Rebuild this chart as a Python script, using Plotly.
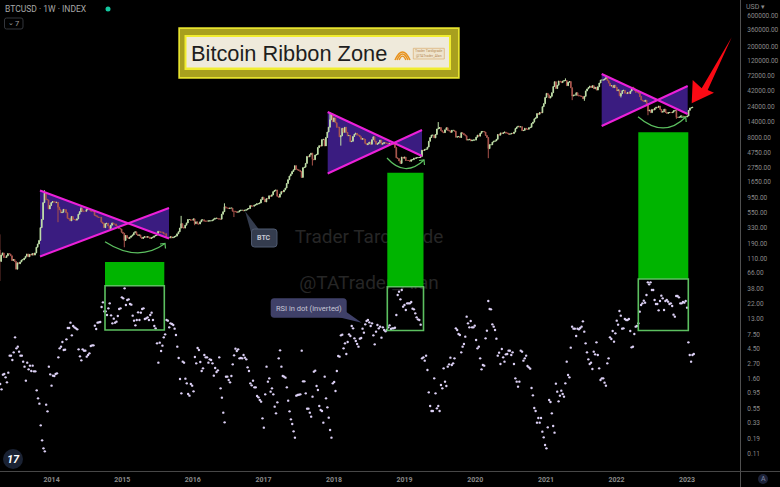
import pandas as pd
import plotly.graph_objects as go

# weekly BTCUSD closes, one row per calendar year, read against the price scale
closes = [
    150,100,125,135,115, 115,122,132,130, 122,103,107,100, 76,95,92,98,105, 106,112,120,130,
    118,128,125,132,125, 135,165,185,210, 330,440,800,1120, 900,880,640,720,800,
    830,820,800,810, 680,620,560,570, 630,620,560,460,450, 420,490,440,440, 430,450,530,580,
    650,590,590,590,625, 625,620,595,590, 590,510,500,480, 475,475,400,385,330, 380,385,350,320,
    360,390,375,375, 350,345,320,315,280,
    270,210,250,230, 225,235,245,255, 275,285,260,250,255, 235,225,235,240, 235,240,235,225,
    230,235,245,250,270, 290,285,280,280, 265,265,232,230,230, 240,230,235,240, 245,265,285,325,
    380,330,325,360,390, 440,440,430,430,
    450,380,405,375, 375,405,435,435,415, 415,415,420,420, 420,430,445,460, 460,455,445,445,530,
    580,690,660,660, 650,660,660,590, 590,580,570,575,600, 610,610,600,610, 620,640,650,720,705,
    705,730,740,770, 770,790,890,970,
    900,820,920,915,1020, 1000,1050,1180,1230, 1250,1000,970,1080, 1180,1170,1250,1340,
    1570,1800,2050,2200,2400, 2550,2950,2600,2550, 2500,2400,1950,2750,2800, 3200,4100,4050,4350,
    4600,3700,3650,4300, 4400,5600,6000,5900,7400, 7500,5950,8000,9700, 11500,15000,18500,14000,
    16000,13500,11500,11500,8200, 8500,11100,9600,11500, 9600,8500,8600,6900, 7000,8300,9000,9300,8700,
    8700,8200,7500,7700, 7500,6500,6200,6400, 6800,6300,7400,8200,7000, 6300,6400,6700,7300,
    6300,6500,6700,6600, 6550,6300,6500,6400,6350, 6350,5600,3900,3800, 3500,3200,4000,3850,4000,
    3550,3550,3550,3450, 3650,3650,3850,3850, 3900,3950,3950,4100, 5100,5050,5250,5300,5700,
    7000,8000,8700,8700, 7900,8900,10800,11000, 11400,10200,9700,9500,10500, 11300,10300,10100,9600,
    10300,10300,10000,8100,8200, 8300,8000,9500,9200, 8800,8500,7300,7400, 7500,7100,7300,7300,7300,
    8100,8700,8400,9300, 9900,9900,9700,8600, 8000,5400,6200,6200,6800, 7000,7100,7500,8900,
    8700,9400,9200,9450, 9700,9350,9300,9000,9050, 9250,9200,9700,11000, 11600,11900,11650,11700,10200,
    10300,11100,10750,10700, 11300,11500,13100,13800, 15500,16000,18700,18200,19400, 19200,23800,26500,33000,
    38100,36000,32300,34300, 39000,48600,57500,45200, 50900,59000,57500,55800,58800, 60000,60000,50000,56600,
    58000,46400,34700,35700,35800, 39000,35500,34700,34700, 34200,31500,34300,41500, 44600,47000,49300,47000,50000,
    45000,47200,42800,48200, 55000,60900,61300,61300, 63300,65500,59700,54800,49400, 50000,46700,50800,47300,
    41800,43100,35000,37900,42000, 42500,38400,37800,39400, 38000,41300,46800,45800, 42200,39700,39500,38500,
    34000,30100,29400,28600,29900, 26600,20500,21000,19300, 21600,21200,22600,23300, 23200,24300,21500,19600,20000,
    21800,19400,18800,19300, 19400,19300,19600,20600,20900, 16300,16300,16450,17100, 17100,16800,16800,16600,
    17100,20900,22700,23000,23300,
]
# the long wicks that stand out from the candle bodies
high_wick_dates = ["2013-04-08", "2013-11-25", "2014-06-02", "2015-11-02", "2016-06-13", "2017-12-11",
                   "2019-06-24", "2021-04-12", "2021-11-08", "2022-03-28"]
high_wick_values = [260, 1240, 680, 500, 780, 19700, 13800, 64800, 69000, 48200]
low_wick_dates = ["2013-04-08", "2014-02-03", "2015-01-12", "2016-01-11", "2016-08-01", "2017-09-11",
                  "2018-02-05", "2018-12-10", "2020-03-09", "2021-05-17", "2021-07-19", "2022-01-24",
                  "2022-06-13", "2022-11-07"]
low_wick_values = [50, 400, 165, 360, 480, 2970, 6000, 3200, 3850, 30000, 29300, 33000, 17600, 15500]

# weekly RSI, drawn upside down underneath the candles
rsi_values = [
    53.5,57.2,58.8,54.4,54.2,55.2,56.7,53.8,48.7,48.7,50.0,47.7,43.2,46.5,46.0,47.5,48.7,48.7,50.5,52.0,
    56.2,50.8,52.8,51.7,53.3,51.7,53.4,53.4,59.1,61.5,63.1,69.6,74.1,76.5,77.4,63.4,65.4,52.0,54.3,57.7,
    54.7,54.8,54.2,54.0,49.2,46.5,46.0,44.6,47.0,46.9,43.8,40.4,40.4,38.8,42.6,39.8,40.2,40.5,40.8,46.8,
    48.9,50.1,46.8,47.2,47.2,49.0,48.5,48.0,45.8,45.6,45.6,39.7,40.7,38.8,38.7,38.6,34.1,32.7,35.4,35.4,
    36.5,34.5,33.0,36.6,39.0,37.6,38.8,38.5,36.8,34.7,34.5,31.2,31.5,28.5,33.5,32.0,31.8,33.2,33.4,36.7,
    38.2,39.6,38.0,35.7,38.0,35.8,34.7,34.5,37.7,37.5,37.2,38.0,36.5,35.8,38.0,39.8,40.5,45.0,50.8,44.8,
    47.3,45.7,43.2,42.3,38.0,38.2,40.2,39.0,39.2,39.5,40.6,42.5,46.0,49.4,55.7,60.0,50.5,50.8,55.6,57.0,
    60.2,60.7,57.2,57.7,59.4,49.1,51.0,46.4,47.0,50.6,53.3,52.5,48.5,49.2,49.2,50.8,49.8,50.0,51.0,54.7,
    52.4,53.6,53.1,49.2,58.5,61.3,65.8,68.7,55.0,55.0,56.0,56.7,54.8,51.3,48.6,46.6,47.3,46.8,49.5,49.4,
    49.5,48.5,49.3,49.8,52.2,53.3,57.0,57.6,56.2,58.2,58.2,60.8,61.2,62.0,
    62.5,67.5,70.3,60.3,52.0,56.5,55.5,59.5,58.5,60.3,64.0,66.0,62.7,49.5,47.1,52.0,54.8,55.0,55.3,58.2,
    62.2,65.4,67.8,69.2,71.4,73.3,60.7,60.5,60.4,60.3,47.2,56.4,56.4,60.0,64.6,64.6,65.8,67.0,61.0,53.5,
    53.2,57.8,59.0,63.8,65.0,65.3,68.8,55.0,61.5,64.2,67.3,71.0,73.3,57.0,56.6,59.3,53.3,48.8,49.0,42.6,
    42.4,46.5,45.0,48.2,44.6,42.3,42.8,39.8,40.5,43.5,44.3,45.2,46.0,43.6,43.4,40.6,41.8,39.3,38.3,38.0,
    38.7,39.8,39.0,42.6,45.3,41.5,39.5,40.5,40.0,43.3,40.2,41.0,41.4,41.0,40.2,39.6,40.7,40.5,40.5,40.3,
    36.5,30.5,29.5,31.8,29.0,34.0,33.5,35.0,33.0,33.0,33.0,32.6,34.6,34.8,36.0,37.2,37.8,38.0,39.4,49.5,
    49.2,50.2,48.7,53.0,59.7,63.8,65.3,65.3,55.5,60.0,64.5,63.8,65.3,57.5,58.5,52.5,56.5,57.8,52.0,51.3,
    49.3,51.5,51.0,49.5,40.5,41.0,42.2,42.5,47.7,46.0,45.2,43.0,37.0,39.0,40.2,38.3,40.2,40.2,39.7,44.0,
    46.5,46.0,49.5,52.8,51.5,51.7,43.5,41.2,32.3,34.7,34.8,39.3,40.0,41.0,43.6,48.7,47.8,51.2,46.7,49.2,
    50.5,48.3,48.2,47.2,47.2,48.5,47.7,51.2,55.5,56.5,58.0,56.5,
    47.2,47.5,50.2,49.5,48.7,51.8,52.2,52.6,58.4,60.6,64.4,65.3,68.8,67.4,68.8,67.4,71.5,73.2,75.5,76.5,
    70.2,62.0,62.6,66.0,69.8,71.8,57.1,59.5,62.4,60.7,59.2,60.2,61.0,57.0,50.5,54.5,55.2,46.3,40.0,40.6,
    40.6,42.8,40.6,40.8,40.4,40.0,38.4,41.5,45.0,47.7,49.8,51.2,50.8,52.7,47.5,48.3,44.7,48.5,52.5,56.0,
    55.5,55.5,56.8,57.7,51.0,49.5,43.2,43.7,41.3,44.5,42.0,38.2,39.4,35.3,36.7,40.6,40.5,37.7,38.0,38.0,
    37.7,41.3,46.2,46.0,42.2,40.0,39.8,39.0,35.5,33.5,33.0,32.2,32.8,30.5,26.7,27.3,26.7,29.0,29.0,32.0,
    33.2,33.2,35.1,32.3,30.7,31.5,35.0,32.3,32.0,32.5,33.2,33.0,33.8,36.4,37.0,30.8,30.8,31.2,33.0,33.0,
    32.6,32.8,32.3,34.3,44.7,48.5,50.5,48.5,48.2,
]

year_ticks = ["%d-01-01" % y for y in range(2014, 2024)]
year_labels = ["<b>%d</b>" % y for y in range(2014, 2024)]
price_ticks = [600000, 360000, 200000, 120000, 72000, 42000, 24000, 14000, 8000, 4750, 2750, 1650, 950, 550,
               330, 190, 110, 66, 38, 22, 13, 7.5, 4.5, 2.7, 1.6, 0.95, 0.55, 0.33, 0.19, 0.11]
price_labels = ["%.2f" % p for p in price_ticks]

W, H, PLOT_W, PLOT_H = 780, 487, 740, 471
GREY = "#8a8a8a"
MAGENTA = "#ec20d8"
PURPLE = "#3a1c80"
GREEN = "#00b400"
PALE_GREEN = "#5cc060"

# candles: each week opens on last week's close
dates = pd.date_range("2013-04-01", periods=len(closes), freq="7D")
opens = [closes[0]] + closes[:-1]
highs = [max(o, c) for o, c in zip(opens, closes)]
lows = [min(o, c) for o, c in zip(opens, closes)]
for d, v in zip(high_wick_dates, high_wick_values):
    i = list(dates).index(pd.Timestamp(d))
    highs[i] = v
for d, v in zip(low_wick_dates, low_wick_values):
    i = list(dates).index(pd.Timestamp(d))
    lows[i] = v
rsi_dates = pd.date_range("2013-04-03", "2023-02-05", periods=len(rsi_values))


# drawings on the chart are placed in screen pixels
def px(x):
    return x / PLOT_W


def py(y):
    return 1 - y / PLOT_H


def path(points, close=False):
    s = "M " + " L ".join("%.5f %.5f" % (px(x), py(y)) for x, y in points)
    return s + " Z" if close else s


def curve(a, c, b):
    return "M %.5f %.5f Q %.5f %.5f %.5f %.5f" % (px(a[0]), py(a[1]), px(c[0]), py(c[1]), px(b[0]), py(b[1]))


def rounded(x0, y0, x1, y1, r):
    p = lambda x, y: "%.5f %.5f" % (px(x), py(y))
    return ("M " + p(x0 + r, y0) + " L " + p(x1 - r, y0) + " Q " + p(x1, y0) + " " + p(x1, y0 + r)
            + " L " + p(x1, y1 - r) + " Q " + p(x1, y1) + " " + p(x1 - r, y1)
            + " L " + p(x0 + r, y1) + " Q " + p(x0, y1) + " " + p(x0, y1 - r)
            + " L " + p(x0, y0 + r) + " Q " + p(x0, y0) + " " + p(x0 + r, y0) + " Z")


shapes = []


def add_rect(x0, y0, x1, y1, fill=None, line=None, width=0, layer="above"):
    shapes.append(dict(type="rect", xref="paper", yref="paper", x0=px(x0), y0=py(y0), x1=px(x1), y1=py(y1),
                       fillcolor=fill or "rgba(0,0,0,0)", line=dict(color=line or "rgba(0,0,0,0)", width=width),
                       layer=layer))


def add_path(p, fill=None, line=None, width=0, layer="above"):
    shapes.append(dict(type="path", xref="paper", yref="paper", path=p, fillcolor=fill or "rgba(0,0,0,0)",
                       line=dict(color=line or "rgba(0,0,0,0)", width=width), layer=layer))


# bow-tie wedges over the three consolidations
wedges = [
    (40, 190.5, 256.5, 128, 223, 169, 208, 238.5),
    (327.7, 112, 173.5, 394, 143, 422, 130, 156),
    (601.7, 74, 126, 658, 100, 687.7, 86, 114),
]
for x0, y_top, y_bot, xc, yc, x1, y1_top, y1_bot in wedges:
    add_path(path([(x0, y_top), (xc, yc), (x0, y_bot)], True), fill=PURPLE, layer="below")
    add_path(path([(xc, yc), (x1, y1_top), (x1, y1_bot)], True), fill=PURPLE, layer="below")
    add_path(path([(x0, y_top), (x1, y1_bot)]), line=MAGENTA, width=2)
    add_path(path([(x0, y_bot), (x1, y1_top)]), line=MAGENTA, width=2)

# green bars and the RSI boxes under them
for x0, x1, bar_top, bar_bottom, box_bottom in [
    (105, 164.3, 262, 285.7, 330),
    (387.3, 423.5, 172.8, 286.7, 330.5),
    (638.3, 688.3, 132.3, 279, 330.5),
]:
    add_rect(x0, bar_top, x1, bar_bottom, fill=GREEN)
    add_rect(x0, bar_bottom, x1, box_bottom, line=PALE_GREEN, width=1.6)

# curved arrows beneath each wedge
for a, c, b in [
    ((105, 241.7), (138, 263), (165, 243.5)),
    ((387, 158), (405, 178), (424, 160)),
    ((638, 116.7), (664, 139), (685.7, 117)),
]:
    add_path(curve(a, c, b), line=PALE_GREEN, width=1.2)
    add_path(path([(b[0] - 5, b[1] + 0.5), (b[0], b[1]), (b[0] + 0.5, b[1] + 5)]), line=PALE_GREEN, width=1.2)

# title plate
add_rect(178.3, 27.3, 459.7, 78.7, fill="#e6e22e")
add_rect(180, 29, 458, 77, fill="#a8a01e")
add_rect(184.5, 35, 451, 70, fill="#f0ec30")
add_rect(186.5, 37, 449, 67.5, fill="#efeadb")
for r, w in [(7.5, 1.6), (5.5, 1.4), (3.4, 1.4)]:
    add_path(curve((402.5 - r, 60), (402.5, 60 - 2 * r - 1), (402.5 + r, 60)), line="#e8921c", width=w)
add_rect(413.3, 48.3, 444.3, 59, fill="#efe4cc", line="#dcb47c", width=0.8)

# callouts
BTC_BOX = "#343c4e"
RSI_BOX = "#3f4068"
add_path(path([(245, 211), (251.5, 234), (259, 229.5)], True), fill=BTC_BOX)
add_path(rounded(251.5, 229, 277, 247, 3), fill=BTC_BOX, line="#4f5a70", width=1)
add_path(path([(338, 317), (361.7, 322.7), (345, 311)], True), fill=RSI_BOX)
add_path(rounded(270.7, 298.3, 346.7, 317.7, 3.5), fill=RSI_BOX)

# red arrow
add_path(path([(731.7, 37.3), (707.7, 90), (714, 92.7), (691.7, 103.3), (692.7, 80), (701.7, 88.3)], True),
         fill="#fa0a14")

# chrome
add_path(path([(740.5, 0), (740.5, 487)]), line="#505050", width=1)
add_path(path([(0, 471.5), (780, 471.5)]), line="#484848", width=1)
add_rect(741, 0, 780, 12, fill="#000000")
add_path(rounded(4.5, 18, 23, 29, 2), line="#33363c", width=1)
shapes.append(dict(type="circle", xref="paper", yref="paper", x0=px(105.5), y0=py(11.5), x1=px(110.5), y1=py(6.5),
                   fillcolor="#14c8a0", line=dict(width=0), layer="above"))
shapes.append(dict(type="circle", xref="paper", yref="paper", x0=px(3), y0=py(469), x1=px(23), y1=py(449),
                   fillcolor="#1a2233", line=dict(width=0), layer="above"))
shapes.append(dict(type="circle", xref="paper", yref="paper", x0=px(758), y0=py(484), x1=px(768), y1=py(474),
                   fillcolor="#1c2238", line=dict(width=0), layer="above"))


def label(x, y, text, size, color, anchor="left", family="Roboto"):
    return dict(xref="paper", yref="paper", x=px(x), y=py(y), text=text, showarrow=False, xanchor=anchor,
                yanchor="middle", font=dict(size=size, color=color, family=family), borderpad=0, borderwidth=0)


annotations = [
    label(190.5, 53.5, "Bitcoin Ribbon Zone", 21.8, "#1e1e1e", family="Liberation Sans"),
    label(428.8, 51.5, "Trader Tardigrade", 3.5, "#b58a55", "center"),
    label(428.8, 55.8, "@TATrader_Alan", 3.5, "#b58a55", "center"),
    label(5, 9.5, "BTCUSD · 1W · INDEX", 8.5, "#a8a8a8"),
    label(8, 23.5, "⌄", 7, "#a0a0a0"),
    label(15, 23.5, "7", 7.5, "#a0a0a0"),
    label(264.2, 238, "<b>BTC</b>", 7, "#c4c8d4", "center"),
    label(308.7, 308, "RSI in dot (inverted)", 7.5, "#c6c6d6", "center"),
    label(13, 459, "<b><i>17</i></b>", 11, "#ffffff", "center"),
    label(746, 7.5, "USD ▾", 7, GREY),
    label(763, 479, "A", 7, "#7f86a0", "center"),
]

fig = go.Figure()
# watermark is a trace so that the green bars sit over it
fig.add_trace(go.Scatter(x=["2018-07-01", "2018-07-01"], y=[225, 44], mode="text",
                         text=["Trader Tardigrade", "@TATrader_Alan"],
                         textfont=dict(size=19, color="#262626", family="Roboto"),
                         hoverinfo="skip", showlegend=False))
fig.add_trace(go.Candlestick(x=dates, open=opens, high=highs, low=lows, close=closes, showlegend=False,
                             increasing=dict(line=dict(color="#bfe0a8", width=1), fillcolor="#f2f0d8"),
                             decreasing=dict(line=dict(color="#a8524a", width=1), fillcolor="#e6d8c4")))
fig.add_trace(go.Scatter(x=rsi_dates, y=rsi_values, yaxis="y2", mode="markers", showlegend=False,
                         marker=dict(size=2.4, color="#dcd0f5")))

fig.update_layout(
    width=W, height=H, autosize=False,
    margin=dict(l=0, r=W - PLOT_W, t=0, b=H - PLOT_H),
    paper_bgcolor="#000000", plot_bgcolor="#000000", showlegend=False,
    shapes=shapes, annotations=annotations,
    xaxis=dict(type="date", range=["2013-04-09", "2023-10-02"], tickmode="array", tickvals=year_ticks,
               ticktext=year_labels, showgrid=False, zeroline=False, showline=False, ticks="",
               rangeslider=dict(visible=False), tickfont=dict(size=7, color=GREY, family="Roboto"), ticklabelstandoff=3),
    yaxis=dict(type="log", range=[-1.2197, 6.0153], side="right", tickmode="array", tickvals=price_ticks,
               ticktext=price_labels, showgrid=False, zeroline=False, showline=False, ticks="outside", ticklen=5,
               tickcolor="rgba(0,0,0,0)", tickfont=dict(size=6.5, color=GREY, family="Roboto")),
    yaxis2=dict(overlaying="y", range=[83.3, -58], visible=False),
)

fig.write_html("out.html", config=dict(displayModeBar=False),
               post_script="document.body.style.margin='0';document.body.style.background='#000';")
